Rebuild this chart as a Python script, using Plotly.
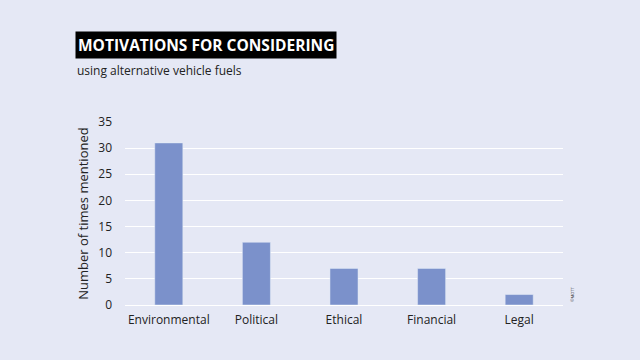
import plotly.graph_objects as go

categories = ["Environmental", "Political", "Ethical", "Financial", "Legal"]
values = [31, 12, 7, 7, 2]
y_ticks = [0, 5, 10, 15, 20, 25, 30, 35]

BG = "#e5e8f5"
BAR = "#7b91cb"

fig = go.Figure(go.Bar(x=categories, y=values, marker_color=BAR, width=0.32))

fig.update_layout(
    width=640, height=360,
    paper_bgcolor=BG, plot_bgcolor=BG,
    margin=dict(l=125, r=77, t=122, b=55),
    font=dict(family="Open Sans", color="#222222"),
    showlegend=False,
)
fig.update_xaxes(showgrid=False, tickfont=dict(size=12), ticks="", showline=False,
                 ticklabelstandoff=6)
fig.update_yaxes(range=[0, 35], tickvals=y_ticks, gridcolor="white", gridwidth=1.3,
                 tickfont=dict(size=12), zeroline=True, zerolinecolor="white", zerolinewidth=1.3,
                 ticklabelstandoff=12,
                 title=dict(text="Number of times mentioned", font=dict(size=13), standoff=6))

fig.add_annotation(xref="paper", yref="paper", x=-0.114, y=1.42, xanchor="left", yanchor="middle",
                   text="<b>MOTIVATIONS FOR CONSIDERING</b>", showarrow=False,
                   font=dict(size=15.5, color="white", family="Open Sans"),
                   bgcolor="black", borderpad=2)
fig.add_annotation(xref="paper", yref="paper", x=-0.114, y=1.284, xanchor="left", yanchor="middle",
                   text="using alternative vehicle fuels", showarrow=False,
                   font=dict(size=12, color="#222222", family="Open Sans"))
fig.add_annotation(xref="paper", yref="paper", x=1.02, y=0.06, xanchor="center", yanchor="middle",
                   text="©MOTT", textangle=-90, showarrow=False,
                   font=dict(size=4, color="#333333"))

fig.write_html("out.html")
